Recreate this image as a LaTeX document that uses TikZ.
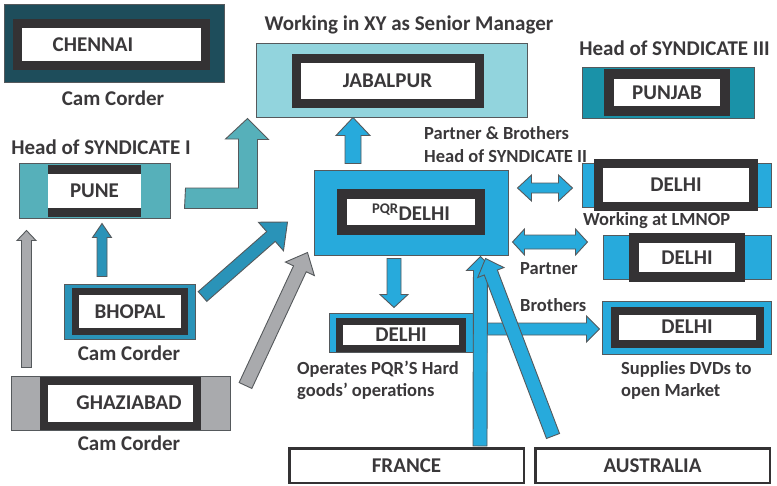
\documentclass[tikz,border=0pt]{standalone}
\usepackage{fontspec}
\setmainfont{Carlito}
\usetikzlibrary{calc}

\definecolor{inkC}{HTML}{3A383A}
\definecolor{frameC}{HTML}{343234}
\definecolor{edgeC}{HTML}{55595C}
\definecolor{chennaiC}{HTML}{1E4D5B}
\definecolor{jabalpurC}{HTML}{92D4DD}
\definecolor{punjabC}{HTML}{1A92A8}
\definecolor{puneC}{HTML}{56B0BA}
\definecolor{pqrC}{HTML}{27AADC}
\definecolor{bhopalC}{HTML}{2A93B8}
\definecolor{grayC}{HTML}{A9AAAD}

\tikzset{
  every node/.style={inner sep=0pt, text=inkC},
  outer/.style={draw=edgeC, line width=1pt},
  frame/.style={draw=frameC, fill=white},
  minor/.style={font=\bfseries\fontsize{18.5}{22}\selectfont},
  barrow/.style={draw=edgeC, line width=0.9pt, line join=miter},
}

% block arrow: [style]{from}{to}{half shaft}{half head}{head length}
\newcommand{\blockarrow}[6][]{%
  \coordinate (ba-a) at #2;
  \coordinate (ba-b) at #3;
  \coordinate (ba-c) at ($(ba-b)!#6pt!(ba-a)$);
  \filldraw[barrow,#1] ($(ba-a)!#4pt!90:(ba-b)$) -- ($(ba-c)!#4pt!90:(ba-b)$)
    -- ($(ba-c)!#5pt!90:(ba-b)$) -- (ba-b) -- ($(ba-c)!#5pt!-90:(ba-b)$)
    -- ($(ba-c)!#4pt!-90:(ba-b)$) -- ($(ba-a)!#4pt!-90:(ba-b)$) -- cycle;
}
% double block arrow: [style]{end}{end}{half shaft}{half head}{head length}
\newcommand{\dblarrow}[6][]{%
  \coordinate (da-a) at #2;
  \coordinate (da-b) at #3;
  \coordinate (da-c) at ($(da-a)!#6pt!(da-b)$);
  \coordinate (da-d) at ($(da-b)!#6pt!(da-a)$);
  \filldraw[barrow,#1] (da-a) -- ($(da-c)!#5pt!90:(da-b)$) -- ($(da-c)!#4pt!90:(da-b)$)
    -- ($(da-d)!#4pt!90:(da-b)$) -- ($(da-d)!#5pt!90:(da-b)$) -- (da-b)
    -- ($(da-d)!#5pt!-90:(da-b)$) -- ($(da-d)!#4pt!-90:(da-b)$)
    -- ($(da-c)!#4pt!-90:(da-b)$) -- ($(da-c)!#5pt!-90:(da-b)$) -- cycle;
}

\begin{document}
\begin{tikzpicture}[x=1pt, y=-1pt, font=\bfseries\fontsize{21}{22}\selectfont]
\useasboundingbox (0,0) rectangle (777,485);

% Chennai
\node[outer, fill=chennaiC, minimum width=220pt, minimum height=78pt] (chennai) at (114,43) {};
\node[frame, line width=9pt, minimum width=188pt, minimum height=42.5pt] (chennaiF) at (111,44.5) {};
\node (chennaiTxt) at (93,45) {CHENNAI};
\node (camA) at (113,98) {Cam Corder};

% Jabalpur
\node[outer, fill=jabalpurC, minimum width=271pt, minimum height=74pt] (jabalpur) at (391.5,80) {};
\node[frame, line width=9pt, minimum width=183pt, minimum height=44.5pt] (jabalpurF) at (387.5,81) {JABALPUR};
\node (xyTxt) at (409,25) {Working in XY as Senior Manager};

% Punjab
\node[outer, fill=punjabC, minimum width=172pt, minimum height=51pt] (punjab) at (668,92.5) {};
\node[frame, line width=10pt, minimum width=116.5pt, minimum height=36.5pt] (punjabF) at (667,92.5) {PUNJAB};
\node (synThreeTxt) at (674.5,48) {Head of SYNDICATE III};

% Pune
\node[outer, fill=puneC, minimum width=151pt, minimum height=55pt] (pune) at (94.5,190.5) {};
\node[fill=frameC, minimum width=93pt, minimum height=52pt] (puneF) at (94.5,191) {};
\node[fill=white, minimum width=93pt, minimum height=34pt] (puneW) at (94.5,191) {PUNE};
\node (synOneTxt) at (101,147) {Head of SYNDICATE I};

% PQR Delhi
\node[outer, fill=pqrC, minimum width=194pt, minimum height=85pt] (pqrdelhi) at (411,212.5) {};
\node[frame, line width=10pt, minimum width=138pt, minimum height=36.5pt] (pqrdelhiF) at (411,212) {\textsuperscript{PQR}DELHI};
\node[minor, anchor=west] (partnerBroTxt) at (424,133) {Partner \& Brothers};
\node[minor, anchor=west] (synTwoTxt) at (424,156) {Head of SYNDICATE II};

% Delhi boxes on the right
\node[outer, fill=pqrC, minimum width=189pt, minimum height=44pt] (delhiA) at (676.5,185) {};
\node[frame, line width=9pt, minimum width=154.5pt, minimum height=42.5pt] (delhiAF) at (676,185) {DELHI};
\node[minor, anchor=west] (lmnopTxt) at (583,221) {Working at LMNOP};

\node[outer, fill=pqrC, minimum width=168pt, minimum height=44pt] (delhiB) at (687,257) {};
\node[frame, line width=10pt, minimum width=105.5pt, minimum height=39pt] (delhiBF) at (687,257.5) {DELHI};
\node[minor, anchor=west] (partnerTxt) at (520,269) {Partner};

\node[outer, fill=pqrC, minimum width=169pt, minimum height=53pt] (delhiC) at (686.5,327.5) {};
\node[frame, line width=8pt, minimum width=145pt, minimum height=33pt] (delhiCF) at (687,327) {DELHI};
\node[minor, anchor=west] (brothersTxt) at (520,305) {Brothers};
\node[minor, anchor=west, align=left] (suppliesTxt) at (621,380) {Supplies DVDs to\\open Market};

% Operates Delhi
\node[outer, fill=pqrC, minimum width=144pt, minimum height=39pt] (opdelhi) at (401,332.5) {};
\node[frame, line width=7pt, minimum width=123.5pt, minimum height=27pt] (opdelhiF) at (401,334.5) {DELHI};
\node[minor, anchor=west, align=left] (operatesTxt) at (297,380) {Operates PQR’S Hard\\goods’ operations};

% Bhopal
\node[outer, fill=bhopalC, minimum width=131pt, minimum height=55pt] (bhopal) at (129.5,311.5) {};
\node[frame, line width=7pt, minimum width=108.5pt, minimum height=40pt] (bhopalF) at (130,311.5) {BHOPAL};
\node (camB) at (129,353) {Cam Corder};

% Ghaziabad
\node[outer, fill=grayC, minimum width=219pt, minimum height=54pt] (ghaziabad) at (120.5,403) {};
\node[frame, line width=8pt, minimum width=153.5pt, minimum height=45pt] (ghaziabadF) at (120.5,403) {};
\node (ghaziabadTxt) at (129,403) {GHAZIABAD};
\node (camC) at (129,443) {Cam Corder};

% France, Australia
\node[draw=frameC, line width=2.5pt, minimum width=234.5pt, minimum height=34.5pt] (france) at (406.5,465.5) {FRANCE};
\node[draw=frameC, line width=2.5pt, minimum width=234.5pt, minimum height=34.5pt] (australia) at (652.5,465.5) {AUSTRALIA};

% arrows
\filldraw[barrow, fill=puneC] ($(pune.east)+(15,-2.5)$) -- ++(53,0) -- ++(0,-49) -- ++(-13,0)
  -- ($(jabalpur.south west)+(-8,1)$) -- ++(21,21) -- ++(-11,0) -- ++(0,69) -- ++(-73,0) -- cycle;
\blockarrow[fill=pqrC]{($(pqrdelhi.north)+(-58,-6)$)}{($(jabalpur.south)+(-38.5,0)$)}{8}{17}{18}
\blockarrow[fill=bhopalC]{($(bhopal.north)+(-27.5,-7)$)}{($(pune.south)+(7.5,5)$)}{5}{9.5}{14}
\blockarrow[fill=grayC]{($(ghaziabad.north west)+(16,-8)$)}{($(pune.south west)+(8,12)$)}{5}{9.5}{10}
\blockarrow[fill=bhopalC]{($(bhopal.north east)+(7,13)$)}{($(pqrdelhi.west)+(-26,9.5)$)}{6.5}{19}{22}
\blockarrow[fill=grayC]{($(ghaziabad.north east)+(15,10)$)}{($(pqrdelhi.south west)+(-6,-3)$)}{7}{16}{18}
\blockarrow[fill=pqrC]{($(pqrdelhi.south)+(-17,3)$)}{($(opdelhi.north)+(-7,-5)$)}{7}{14}{13}
\blockarrow[fill=pqrC]{($(opdelhi.east)+(2,-3.5)$)}{($(delhiC.west)+(-2,1.5)$)}{6}{13}{13}
\blockarrow[fill=pqrC]{($(france.north)+(73.5,-1)$)}{($(pqrdelhi.south east)+(-28,1)$)}{7}{14}{14}
\blockarrow[fill=pqrC]{($(australia.north west)+(19,-11)$)}{($(pqrdelhi.south east)+(-23,3)$)}{7}{14}{15}
\dblarrow[fill=pqrC]{($(pqrdelhi.east)+(9,-24.5)$)}{($(delhiA.west)+(-9,3)$)}{5}{13}{14}
\dblarrow[fill=pqrC]{($(pqrdelhi.east)+(4,29.5)$)}{($(delhiB.west)+(-15,-15)$)}{7}{13}{12}
\end{tikzpicture}
\end{document}
